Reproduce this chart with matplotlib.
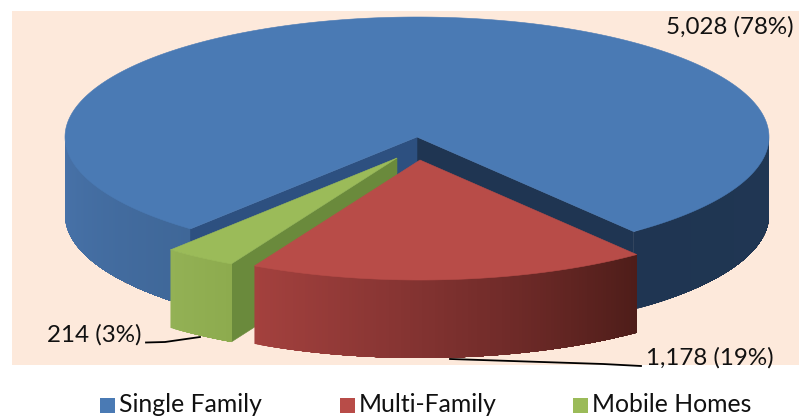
import numpy as np
import matplotlib
matplotlib.use("Agg")
import matplotlib.pyplot as plt
from matplotlib.colors import to_rgb
from matplotlib.patches import Polygon, Rectangle

categories = ["Single Family", "Multi-Family", "Mobile Homes"]
values = [5028, 1178, 214]
point_labels = ["5,028 (78%)", "1,178 (19%)", "214 (3%)"]

plt.rcParams['font.family'] = ['Lato', 'DejaVu Sans']

RX, RY, DEPTH = 352, 120, 78
START = -52  # degrees, where the first slice begins
PANEL = '#fde9db'


def rim(cx, cy, t0, t1, drop=0, n=120):
    t = np.radians(np.linspace(t0, t1, n))
    # y axis is flipped so positive angles go up the screen
    return np.column_stack([cx + RX * np.cos(t), cy - RY * np.sin(t) + drop])


def wall(ax, cx, cy, t0, t1, stops, zorder):
    # outer wall shaded left to right. each strip runs on to the far end and
    # the next one paints over it, that way no seams show between strips
    n = max(int(abs(t1 - t0)), 2) * 2
    edges = np.linspace(t0, t1, n + 1)
    pos = np.linspace(0, 1, len(stops))
    rgb = np.array([to_rgb(c) for c in stops])
    for i in range(n):
        top = rim(cx, cy, edges[i], t1, n=60)
        bottom = rim(cx, cy, edges[i], t1, drop=DEPTH, n=60)[::-1]
        f = (i + 0.5) / n
        col = [np.interp(f, pos, rgb[:, k]) for k in range(3)]
        ax.add_patch(Polygon(np.vstack([top, bottom]), fc=col, ec='none', zorder=zorder))


def cut_face(ax, cx, cy, t, color, zorder):
    outer = rim(cx, cy, t, t, n=1)[0]
    pts = [(cx, cy), outer, (outer[0], outer[1] + DEPTH), (cx, cy + DEPTH)]
    ax.add_patch(Polygon(pts, fc=color, ec=color, lw=0.4, zorder=zorder))


def top_face(ax, cx, cy, t0, t1, color, zorder):
    pts = np.vstack([[(cx, cy)], rim(cx, cy, t0, t1, n=300)])
    ax.add_patch(Polygon(pts, fc=color, ec=color, lw=0.4, zorder=zorder))


fig = plt.figure(figsize=(7.99, 4.18), dpi=100)
ax = fig.add_axes([0, 0, 1, 1])
ax.set_xlim(0, 799)
ax.set_ylim(418, 0)
ax.axis('off')

ax.add_patch(Rectangle((12, 11), 787, 354, fc=PANEL, ec='none', zorder=0))

# slice angles, going anticlockwise: single family, mobile homes, multi-family
total = sum(values)
sweep = {c: v / total * 360 for c, v in zip(categories, values)}
blue_end = START + sweep["Single Family"]
green_end = blue_end + sweep["Mobile Homes"]
red_end = green_end + sweep["Multi-Family"]

# single family
cx, cy = 417, 137
wall(ax, cx, cy, 180, blue_end, ['#4873aa', '#3f6798'], 1)
wall(ax, cx, cy, START, 0, ['#1f3552', '#203753'], 1)
cut_face(ax, cx, cy, START, '#1f3552', 2)
cut_face(ax, cx, cy, blue_end, '#2d5080', 2)
top_face(ax, cx, cy, START, blue_end, '#4a7ab4', 3)

# mobile homes
cx, cy = 397, 158
cut_face(ax, cx, cy, green_end, '#6a8a3c', 4)
wall(ax, cx, cy, blue_end, green_end, ['#93b155', '#8dab4e'], 5)
top_face(ax, cx, cy, blue_end, green_end, '#9bbb59', 6)

# multi-family
cx, cy = 420, 160
wall(ax, cx, cy, green_end, red_end, ['#a4413e', '#8a3634', '#6e2a28', '#4e1d19'], 7)
top_face(ax, cx, cy, green_end, red_end, '#b84c48', 8)

# leader lines
ax.plot([146, 165, 200], [342.5, 342, 337], color='black', lw=1.3, zorder=9)
ax.plot([450, 603, 641], [359, 364, 366], color='black', lw=1.3, zorder=9)

# data labels
fs = 17.4
ax.text(666, 27, point_labels[0], fontsize=fs, ha='left', va='center', color='#111111', zorder=10)
ax.text(646, 358, point_labels[1], fontsize=fs, ha='left', va='center', color='#111111', zorder=10)
ax.text(47, 335, point_labels[2], fontsize=fs, ha='left', va='center', color='#111111', zorder=10)

# legend
legend_colors = ['#4a7ab4', '#b84c48', '#9bbb59']
legend_x = [100, 340, 573]
for name, col, x in zip(categories, legend_colors, legend_x):
    ax.add_patch(Rectangle((x, 398), 15, 15, fc=col, ec='none', zorder=10))
    ax.text(x + 19, 405, name, fontsize=17.8, ha='left', va='center', color='#111111', zorder=10)

fig.savefig('out.png', dpi=100)
